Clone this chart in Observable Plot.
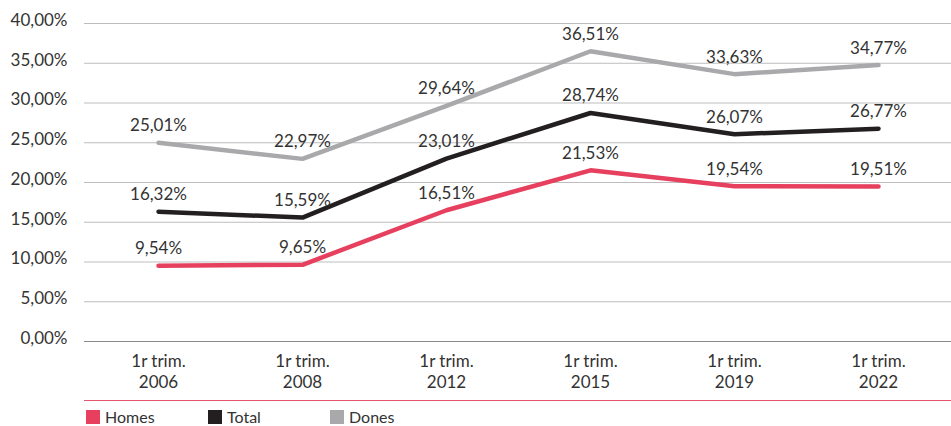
<!DOCTYPE html>
<html>
<head>
<meta charset="utf-8">
<script src="https://cdn.jsdelivr.net/npm/d3@7"></script>
<script src="https://cdn.jsdelivr.net/npm/@observablehq/plot@0.6"></script>
<style>
  html, body { margin: 0; padding: 0; background: #fff; overflow: hidden; }
  body { width: 951px; font-family: Lato, "Noto Sans", sans-serif; color: #333; }
  #sep { margin-left: 84px; width: 867px; height: 0; border-top: 1.5px solid #e4566e; }
  #legend { display: flex; margin-left: 86px; margin-top: 8px; font-size: 16px; line-height: 15px; }
  .item { display: flex; align-items: center; width: 122px; }
  .sw { width: 14px; height: 14px; margin-right: 5px; }
</style>
</head>
<body>
<div id="chart"></div>
<div id="sep"></div>
<div id="legend"></div>
<script>
const categories = ["1r trim.\n2006", "1r trim.\n2008", "1r trim.\n2012", "1r trim.\n2015", "1r trim.\n2019", "1r trim.\n2022"];
const seriesNames = ["Homes", "Total", "Dones"];
const homes = [9.54, 9.65, 16.51, 21.53, 19.54, 19.51];
const total = [16.32, 15.59, 23.01, 28.74, 26.07, 26.77];
const dones = [25.01, 22.97, 29.64, 36.51, 33.63, 34.77];
const colors = ["#e6405e", "#231f20", "#a9a9ab"];
const yTicks = [0, 5, 10, 15, 20, 25, 30, 35, 40];

const seriesValues = [homes, total, dones];
const data = [];
seriesNames.forEach((s, i) => categories.forEach((c, j) => data.push({series: s, cat: c, value: seriesValues[i][j]})));

const fmt = v => v.toFixed(2).replace(".", ",") + "%";

const chart = Plot.plot({
  width: 951,
  height: 400,
  marginTop: 23,
  marginBottom: 59,
  marginLeft: 84,
  marginRight: 0,
  style: {fontFamily: "Lato, 'Noto Sans', sans-serif", fontSize: "17px", color: "#333"},
  x: {type: "point", domain: categories, padding: 0.5, label: null},
  y: {domain: [0, 40], label: null},
  color: {domain: seriesNames, range: colors},
  marks: [
    Plot.ruleY(yTicks.filter(d => d > 0), {stroke: "#bdbdbd", strokeWidth: 1}),
    Plot.ruleY([0], {stroke: "#8a8a8a", strokeWidth: 1.2}),
    Plot.axisY({ticks: yTicks, tickFormat: fmt, tickSize: 0, tickPadding: 17, dy: -3, fontSize: 17, fill: "#333"}),
    Plot.axisX({tickSize: 0, tickPadding: 10, fontSize: 17, lineHeight: 1.25, fill: "#333"}),
    Plot.line(data, {x: "cat", y: "value", z: "series", stroke: "series", strokeWidth: 4.5, strokeLinecap: "round", strokeLinejoin: "miter"}),
    Plot.text(data, {x: "cat", y: "value", text: d => fmt(d.value), dy: -17, fontSize: 17, fill: "#333"})
  ]
});
document.getElementById("chart").appendChild(chart);

const legend = document.getElementById("legend");
seriesNames.forEach((s, i) => {
  const item = document.createElement("div");
  item.className = "item";
  const sw = document.createElement("div");
  sw.className = "sw";
  sw.style.background = colors[i];
  const t = document.createElement("span");
  t.textContent = s;
  item.appendChild(sw);
  item.appendChild(t);
  legend.appendChild(item);
});
</script>
</body>
</html>
